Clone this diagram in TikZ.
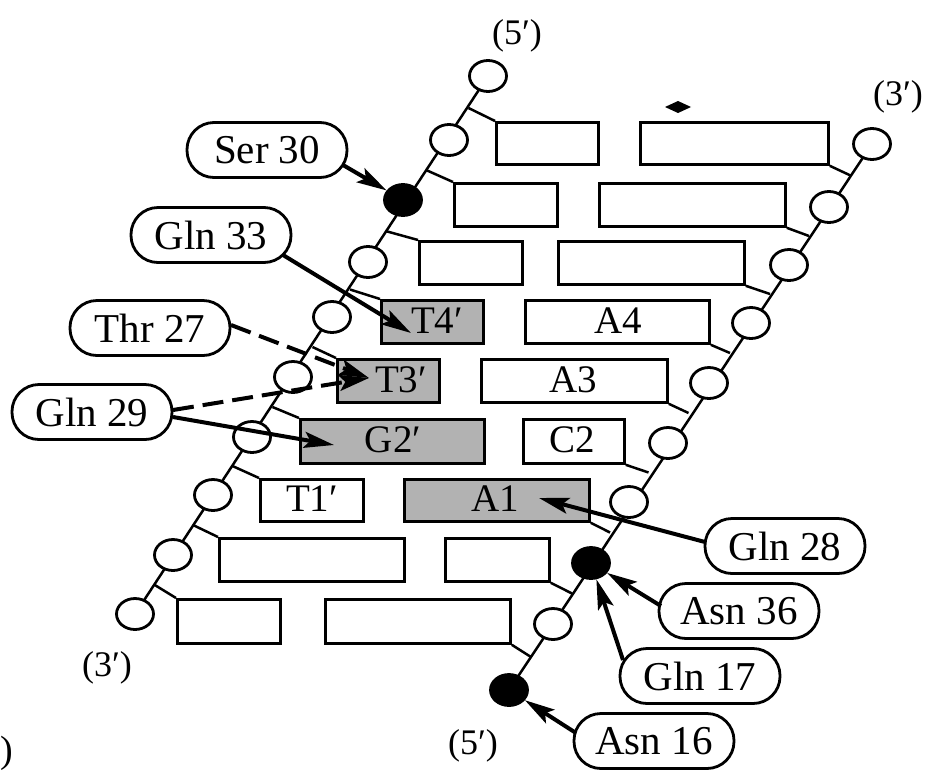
\documentclass[tikz,border=0pt]{standalone}
\usepackage{fontspec}
\setmainfont{Liberation Serif}
\usetikzlibrary{arrows.meta,calc,shapes.geometric}
\begin{document}
\begin{tikzpicture}[x=1pt,y=-1pt,
  oc/.style={ellipse,draw,line width=2.8pt,fill=white,minimum width=37pt,minimum height=31pt,inner sep=0pt},
  fc/.style={oc,fill=black},
  bx/.style={draw,line width=2.8pt,anchor=north west,inner sep=0pt,fill=white},
  shd/.style={bx,fill=black!30},
  btxt/.style={inner sep=0pt,font=\fontsize{39}{39}\selectfont},
  pill/.style={draw,line width=2.8pt,rounded corners=27pt,minimum width=160pt,minimum height=55pt,inner sep=0pt,font=\fontsize{41}{41}\selectfont,fill=white},
  strand/.style={line width=2.5pt},
  tick/.style={line width=2.5pt},
  arr/.style={line width=4pt,-{Stealth[length=30pt,width=16pt,inset=6pt]}},
  darr/.style={arr,dash pattern=on 21pt off 9pt},
  endlbl/.style={font=\fontsize{36}{36}\selectfont,inner sep=0pt}
]
\useasboundingbox (0,0) rectangle (933,774);

% strand positions
\coordinate (L1) at (488,76);  \coordinate (L2) at (449,140);
\coordinate (L3) at (403,200); \coordinate (L4) at (368,262);
\coordinate (L5) at (332,317); \coordinate (L6) at (293,377);
\coordinate (L7) at (252,437); \coordinate (L8) at (213,495);
\coordinate (L9) at (173,555); \coordinate (L10) at (135,614);
\coordinate (R1) at (872,144); \coordinate (R2) at (829,207);
\coordinate (R3) at (789,265); \coordinate (R4) at (751,323);
\coordinate (R5) at (709,383); \coordinate (R6) at (668,443);
\coordinate (R7) at (629,502); \coordinate (R8) at (591,563);
\coordinate (R9) at (553,624); \coordinate (R10) at (509,690);

% backbone lines
\draw[strand] (L1) -- (L10);
\draw[strand] (R1) -- (R10);

% base boxes
\node[bx,minimum width=102pt,minimum height=42pt] (a1) at (495,121) {};
\node[bx,minimum width=188pt,minimum height=42pt] (b1) at (639,121) {};
\node[bx,minimum width=103pt,minimum height=43pt] (a2) at (453,182) {};
\node[bx,minimum width=186pt,minimum height=43pt] (b2) at (598,182) {};
\node[bx,minimum width=103pt,minimum height=43pt] (a3) at (418,240) {};
\node[bx,minimum width=186pt,minimum height=43pt] (b3) at (557,240) {};
\node[shd,minimum width=102pt,minimum height=43pt] (a4) at (380,299) {};
\node[bx,minimum width=184pt,minimum height=43pt] (b4) at (524,299) {};
\node[shd,minimum width=102pt,minimum height=43pt] (a5) at (336,358) {};
\node[bx,minimum width=186pt,minimum height=43pt] (b5) at (480,358) {};
\node[shd,minimum width=184pt,minimum height=44pt] (a6) at (299,418) {};
\node[bx,minimum width=101pt,minimum height=44pt] (b6) at (522,418) {};
\node[bx,minimum width=103pt,minimum height=42pt] (a7) at (259,478) {};
\node[shd,minimum width=185pt,minimum height=42pt] (b7) at (403,478) {};
\node[bx,minimum width=185pt,minimum height=43pt] (a8) at (218,537) {};
\node[bx,minimum width=104pt,minimum height=43pt] (b8) at (444,537) {};
\node[bx,minimum width=103pt,minimum height=44pt] (a9) at (176,598) {};
\node[bx,minimum width=185pt,minimum height=44pt] (b9) at (324,598) {};

% box labels
\node[btxt] (t4l) at (437,321) {T4′};
\node[btxt] (a4l) at (618,321) {A4};
\node[btxt] (t3l) at (401,380) {T3′};
\node[btxt] (a3l) at (573,380) {A3};
\node[btxt] (g2l) at (393,440) {G2′};
\node[btxt] (c2l) at (572,440) {C2};
\node[btxt] (t1l) at (312,499) {T1′};
\node[btxt] (a1l) at (495,499) {A1};

% ticks from backbone to boxes
\foreach \i/\j in {1/2,2/3,3/4,4/5,5/6,6/7,7/8,8/9,9/10}{
  \draw[tick] ($(L\i)!0.5!(L\j)$) -- (a\i.north west);
  \draw[tick] (b\i.south east) -- ($(R\i)!0.5!(R\j)$);
}

% phosphate circles
\foreach \k in {1,2,4,5,6,7,8,9,10}{ \node[oc] (cL\k) at (L\k) {}; }
\node[fc] (cL3) at (L3) {};
\foreach \k in {1,2,3,4,5,6,7,9}{ \node[oc] (cR\k) at (R\k) {}; }
\node[fc] (cR8) at (R8) {};
\node[fc] (cR10) at (R10) {};

% small diamond mark
\fill (665,107) -- (678,101) -- (691,107) -- (678,113) -- cycle;

% end labels
\node[endlbl] (e5t) at (517,36) {(5′)};
\node[endlbl] (e3t) at (898,97) {(3′)};
\node[endlbl] (e3b) at (107,668) {(3′)};
\node[endlbl] (e5b) at (473,746) {(5′)};
\node[endlbl,anchor=west,font=\fontsize{38}{38}\selectfont] (paren) at (0,753) {)};

% residue labels
\node[pill] (ser30) at (267,150) {Ser 30};
\node[pill] (gln33) at (211,235) {Gln 33};
\node[pill] (thr27) at (150,328) {Thr 27};
\node[pill] (gln29) at (92,412) {Gln 29};
\node[pill] (gln28) at (785,546) {Gln 28};
\node[pill] (asn36) at (739,611) {Asn 36};
\node[pill] (gln17) at (700,676) {Gln 17};
\node[pill] (asn16) at (654,741) {Asn 16};

% arrow targets inside boxes
\coordinate (t4tip) at (411,333);
\coordinate (t3tip) at (369,378);
\coordinate (g2tip) at (334,445);
\coordinate (a1tip) at (539,498);

% contacts
\draw[arr] ($(ser30.center)+(76,15)$) -- (cL3);
\draw[arr] ($(gln33.center)+(72,20)$) -- (t4tip);
\draw[darr] ($(thr27.center)+(81,-3)$) -- (t3tip);
\draw[darr] ($(gln29.center)+(81,-2)$) -- (t3tip);
\draw[arr] ($(gln29.center)+(81,5)$) -- (g2tip);
\draw[arr] ($(gln28.center)+(-80,-4)$) -- (a1tip);
\draw[arr] ($(asn36.center)+(-78,-5)$) -- (cR8);
\draw[arr] ($(gln17.center)+(-77,-16)$) -- (cR8);
\draw[arr] ($(asn16.center)+(-78,-8)$) -- (cR10);
\end{tikzpicture}
\end{document}
